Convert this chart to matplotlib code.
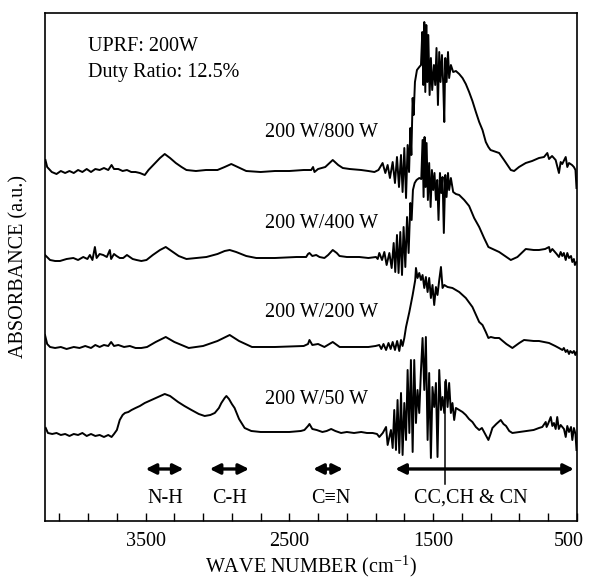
import numpy as np
import matplotlib
matplotlib.use("Agg")
from matplotlib import pyplot as plt
from matplotlib.ticker import FixedLocator, FixedFormatter, NullFormatter

plt.rcParams["font.family"] = ["Liberation Serif", "DejaVu Serif"]
plt.rcParams["mathtext.fontset"] = "stix"

# spectra: (wave number, absorbance a.u.)
spec_800 = np.array([
    (4197, 3.62), (4185, 3.55), (4153, 3.50), (4120, 3.48), (4090, 3.51), (4060, 3.49),
    (4030, 3.51), (4000, 3.49), (3970, 3.52), (3940, 3.50), (3910, 3.53), (3880, 3.50),
    (3850, 3.53), (3820, 3.52), (3790, 3.54), (3760, 3.52), (3737, 3.57), (3720, 3.53),
    (3690, 3.53), (3660, 3.51), (3630, 3.52), (3600, 3.50), (3570, 3.50), (3540, 3.49),
    (3506, 3.47), (3480, 3.52), (3440, 3.58), (3400, 3.64), (3367, 3.68), (3330, 3.64),
    (3290, 3.59), (3250, 3.55), (3216, 3.52), (3150, 3.51), (3080, 3.52), (3000, 3.52),
    (2950, 3.55), (2904, 3.58), (2860, 3.55), (2800, 3.51), (2700, 3.50), (2600, 3.51),
    (2500, 3.51), (2400, 3.52), (2348, 3.52), (2335, 3.55), (2325, 3.50), (2300, 3.53),
    (2250, 3.55), (2198, 3.62), (2160, 3.57), (2128, 3.54), (2080, 3.53), (2000, 3.52),
    (1950, 3.51), (1908, 3.50), (1880, 3.52),
    (1851, 3.59), (1832, 3.49), (1816, 3.57), (1800, 3.44), (1781, 3.60), (1765, 3.39),
    (1751, 3.65), (1737, 3.35), (1723, 3.67), (1712, 3.30), (1700, 3.74), (1688, 3.24),
    (1677, 3.77), (1667, 3.50), (1658, 3.94), (1651, 3.67), (1642, 4.24), (1635, 4.07),
    (1626, 4.40), (1612, 4.52), (1596, 4.55), (1584, 4.57), (1575, 4.90), (1568, 4.37),
    (1561, 5.00), (1554, 4.30), (1547, 4.97), (1540, 4.40), (1533, 4.87), (1524, 4.27),
    (1515, 4.64), (1506, 4.32), (1494, 4.57), (1485, 4.37), (1476, 4.74), (1466, 4.17),
    (1457, 4.70), (1448, 4.40), (1438, 4.67), (1429, 4.37), (1422, 4.00), (1415, 4.64),
    (1406, 4.40), (1396, 4.70), (1388, 4.44), (1376, 4.57), (1360, 4.50), (1341, 4.51),
    (1318, 4.48), (1295, 4.44), (1272, 4.38), (1249, 4.30), (1226, 4.21), (1202, 4.10),
    (1179, 4.00), (1156, 3.92), (1133, 3.80), (1115, 3.75), (1100, 3.72), (1040, 3.69),
    (1006, 3.62), (959, 3.52), (936, 3.51), (902, 3.55), (855, 3.59), (811, 3.61),
    (763, 3.64), (728, 3.65), (705, 3.69), (693, 3.63), (672, 3.66), (647, 3.62),
    (624, 3.49), (612, 3.60), (601, 3.58), (577, 3.65), (566, 3.55), (554, 3.59),
    (533, 3.57), (520, 3.55), (509, 3.52), (502, 3.34),
])

spec_400 = np.array([
    (4200, 2.67), (4165, 2.62), (4130, 2.61), (4096, 2.61), (4050, 2.63), (4003, 2.64),
    (3970, 2.62), (3934, 2.65), (3905, 2.63), (3888, 2.67), (3870, 2.62), (3853, 2.75),
    (3841, 2.64), (3820, 2.68), (3795, 2.67), (3770, 2.65), (3749, 2.72), (3740, 2.63),
    (3720, 2.68), (3702, 2.66), (3680, 2.64), (3656, 2.64), (3630, 2.67), (3610, 2.65),
    (3590, 2.63), (3563, 2.62), (3530, 2.61), (3494, 2.62), (3450, 2.67), (3400, 2.72),
    (3360, 2.75), (3320, 2.71), (3270, 2.66), (3216, 2.63), (3150, 2.64), (3077, 2.65),
    (3000, 2.68), (2950, 2.71), (2915, 2.72), (2870, 2.70), (2800, 2.66), (2730, 2.64),
    (2600, 2.64), (2450, 2.65), (2383, 2.65), (2370, 2.68), (2360, 2.69), (2340, 2.66),
    (2313, 2.67), (2290, 2.65), (2256, 2.64), (2230, 2.67), (2198, 2.72), (2170, 2.69),
    (2151, 2.66), (2100, 2.65), (2013, 2.65), (1950, 2.64), (1897, 2.65), (1885, 2.63),
    (1874, 2.69), (1855, 2.62), (1839, 2.70), (1823, 2.57), (1804, 2.69), (1788, 2.54),
    (1774, 2.79), (1763, 2.50), (1751, 2.87), (1740, 2.49), (1728, 2.90), (1716, 2.47),
    (1705, 2.95), (1693, 2.55), (1681, 3.05), (1670, 2.69), (1658, 3.19), (1649, 3.02),
    (1640, 3.32), (1628, 3.39), (1615, 3.42), (1596, 3.44), (1582, 3.43), (1573, 3.82),
    (1566, 3.25), (1559, 3.85), (1552, 3.35), (1545, 3.79), (1536, 3.22), (1527, 3.59),
    (1517, 3.15), (1508, 3.52), (1499, 3.32), (1490, 3.49), (1480, 3.22), (1471, 3.42),
    (1462, 3.02), (1452, 3.49), (1443, 3.29), (1434, 3.45), (1425, 2.89), (1415, 3.47),
    (1406, 3.25), (1396, 3.49), (1388, 3.32), (1376, 3.44), (1360, 3.30), (1341, 3.28),
    (1318, 3.27), (1283, 3.22), (1249, 3.16), (1214, 3.04), (1179, 2.95), (1145, 2.84),
    (1125, 2.78), (1115, 2.75), (1040, 2.70), (959, 2.62), (913, 2.65), (855, 2.73),
    (800, 2.72), (763, 2.72), (720, 2.73), (693, 2.75), (685, 2.70), (670, 2.73),
    (640, 2.68), (624, 2.65), (612, 2.70), (601, 2.66), (590, 2.69), (577, 2.62),
    (566, 2.69), (554, 2.64), (540, 2.66), (531, 2.60), (520, 2.63), (513, 2.57),
    (502, 2.60),
])

spec_200 = np.array([
    (4200, 1.87), (4185, 1.78), (4165, 1.75), (4130, 1.74), (4090, 1.75), (4050, 1.73),
    (4000, 1.75), (3960, 1.74), (3920, 1.76), (3880, 1.74), (3850, 1.77), (3820, 1.75),
    (3790, 1.77), (3760, 1.76), (3740, 1.80), (3720, 1.76), (3690, 1.77), (3650, 1.75),
    (3610, 1.76), (3570, 1.74), (3530, 1.74), (3490, 1.75), (3430, 1.80), (3360, 1.85),
    (3300, 1.80), (3200, 1.74), (3100, 1.76), (3000, 1.81), (2915, 1.87), (2850, 1.81),
    (2760, 1.75), (2600, 1.75), (2400, 1.76), (2370, 1.78), (2360, 1.82), (2340, 1.77),
    (2300, 1.78), (2256, 1.75), (2198, 1.80), (2150, 1.75), (2050, 1.75), (1950, 1.75),
    (1900, 1.76), (1874, 1.77), (1860, 1.73), (1845, 1.78), (1827, 1.72), (1810, 1.79),
    (1795, 1.73), (1781, 1.80), (1765, 1.72), (1750, 1.81), (1735, 1.71), (1723, 1.82),
    (1712, 1.76), (1700, 1.84), (1688, 1.95), (1665, 2.10), (1642, 2.27), (1624, 2.42),
    (1619, 2.54), (1608, 2.44), (1596, 2.49), (1584, 2.42), (1573, 2.47), (1561, 2.34),
    (1550, 2.45), (1538, 2.30), (1527, 2.44), (1515, 2.24), (1504, 2.37), (1492, 2.17),
    (1480, 2.35), (1469, 2.27), (1457, 2.42), (1445, 2.55), (1434, 2.34), (1422, 2.37),
    (1399, 2.35), (1365, 2.34), (1318, 2.30), (1272, 2.24), (1226, 2.15), (1179, 2.00),
    (1156, 1.97), (1133, 1.90), (1115, 1.84), (1098, 1.85), (1070, 1.84), (1040, 1.84),
    (990, 1.78), (948, 1.74), (900, 1.79), (867, 1.82), (800, 1.81), (763, 1.81),
    (693, 1.79), (650, 1.76), (624, 1.74), (600, 1.72), (590, 1.74), (577, 1.70),
    (566, 1.72), (554, 1.68), (545, 1.71), (531, 1.69), (520, 1.71), (510, 1.67),
    (502, 1.70),
])

spec_50 = np.array([
    (4195, 0.94), (4180, 0.89), (4150, 0.88), (4120, 0.89), (4090, 0.87), (4060, 0.88),
    (4030, 0.86), (4000, 0.88), (3970, 0.87), (3940, 0.89), (3910, 0.86), (3880, 0.88),
    (3850, 0.86), (3820, 0.87), (3790, 0.85), (3760, 0.87), (3737, 0.85), (3720, 0.88),
    (3700, 0.92), (3680, 1.02), (3660, 1.07), (3644, 1.09), (3620, 1.10), (3598, 1.12),
    (3570, 1.14), (3540, 1.16), (3506, 1.19), (3460, 1.22), (3413, 1.25), (3367, 1.28),
    (3330, 1.26), (3274, 1.20), (3230, 1.16), (3181, 1.12), (3130, 1.08), (3089, 1.06),
    (3050, 1.07), (3019, 1.09), (2990, 1.14), (2973, 1.19), (2950, 1.24), (2938, 1.26),
    (2920, 1.23), (2900, 1.18), (2881, 1.14), (2850, 1.03), (2811, 0.94), (2765, 0.91),
    (2700, 0.90), (2600, 0.90), (2500, 0.90), (2420, 0.91), (2395, 0.92), (2370, 0.96),
    (2360, 0.98), (2340, 0.93), (2310, 0.92), (2270, 0.90), (2240, 0.91), (2209, 0.93),
    (2180, 0.91), (2140, 0.89), (2100, 0.90), (2050, 0.89), (2000, 0.90), (1960, 0.89),
    (1920, 0.89), (1890, 0.88), (1874, 0.85), (1850, 0.89), (1827, 0.95), (1816, 0.77),
    (1793, 0.92), (1781, 0.74), (1770, 1.12), (1758, 0.72), (1747, 1.22), (1735, 0.69),
    (1723, 1.29), (1712, 0.67), (1700, 1.19), (1688, 0.82), (1677, 1.52), (1665, 0.89),
    (1654, 1.62), (1642, 0.70), (1631, 1.62), (1619, 0.99), (1608, 1.32), (1596, 1.09),
    (1584, 1.52), (1573, 1.84), (1561, 1.32), (1550, 1.85), (1538, 0.82), (1527, 1.49),
    (1515, 0.64), (1504, 1.35), (1492, 1.15), (1480, 1.39), (1469, 0.65), (1457, 1.52),
    (1445, 1.12), (1434, 1.25), (1422, 1.09), (1411, 1.42), (1399, 1.15), (1388, 1.39),
    (1376, 1.09), (1365, 1.19), (1353, 1.02), (1341, 1.14), (1318, 1.12), (1295, 1.10),
    (1272, 1.07), (1250, 1.03), (1226, 1.00), (1202, 0.95), (1179, 0.92), (1160, 0.94),
    (1145, 0.90), (1115, 0.82), (1100, 0.88), (1087, 0.94), (1060, 0.98), (1029, 1.02),
    (1010, 0.98), (992, 0.96), (970, 0.91), (948, 0.89), (900, 0.90), (853, 0.91),
    (800, 0.92), (763, 0.94), (740, 0.95), (716, 1.00), (710, 0.95), (700, 0.98),
    (681, 1.05), (670, 0.96), (659, 0.99), (647, 0.93), (636, 1.05), (625, 0.93),
    (612, 0.97), (600, 0.95), (589, 0.93), (577, 0.85), (566, 0.96), (554, 0.90),
    (540, 0.95), (531, 0.82), (520, 0.94), (509, 0.88), (502, 0.72),
])

spectra = [spec_800, spec_400, spec_200, spec_50]
spec_labels = ["200 W/800 W", "200 W/400 W", "200 W/200 W", "200 W/50 W"]
label_y = [3.85, 2.94, 2.05, 1.18]

band_names = ["N-H", "C-H", "C\u2261N", "CC,CH & CN"]
band_ranges = [(3500, 3236), (3054, 2780), (2334, 2127), (1763, 520)]
band_label_x = [3360, 2919, 2214, 1237]
marker_wn = 1420

conditions = ["UPRF: 200W", "Duty Ratio: 12.5%"]

xtick_pos = [3500, 2500, 1500, 500]
xtick_lbl = ["3500", "2500", "1500", "500"]

fig = plt.figure(figsize=(5.9, 5.81), dpi=100)
ax = fig.add_axes([0.0763, 0.1033, 0.9025, 0.8743])

for spec in spectra:
    ax.plot(spec[:, 0], spec[:, 1], color="black", lw=1.4)

for lbl, y in zip(spec_labels, label_y):
    ax.text(2672, y, lbl, fontsize=14.5, ha="left", va="baseline")

for i, line in enumerate(conditions):
    ax.text(0.081, 0.926 - i * 0.052, line, transform=ax.transAxes,
            fontsize=14.5, ha="left", va="baseline")

arrow_y = 0.53
for name, (a, b), lx in zip(band_names, band_ranges, band_label_x):
    ax.annotate("", xy=(b, arrow_y), xytext=(a, arrow_y),
                arrowprops=dict(arrowstyle="<|-|>", color="black", lw=2.4,
                                mutation_scale=15, shrinkA=0, shrinkB=0))
    ax.text(lx, 0.19, name, fontsize=14.5, ha="center", va="baseline")

ax.plot([marker_wn, marker_wn], [0.38, 1.40], color="black", lw=1.1)

ax.set_xlim(4200, 495)
ax.set_ylim(0.01, 5.09)
ax.xaxis.set_major_locator(FixedLocator(xtick_pos))
# last label sits on the figure edge, nudge it inward a little
ax.xaxis.set_major_formatter(FixedFormatter(xtick_lbl[:-1] + [""]))
ax.annotate(xtick_lbl[-1], xy=(xtick_pos[-1], 0), xycoords=("data", "axes fraction"),
            xytext=(-6, -8), textcoords="offset points",
            ha="center", va="top", fontsize=14.5, annotation_clip=False)
ax.xaxis.set_minor_locator(FixedLocator(np.arange(500, 4200, 200)))
ax.xaxis.set_minor_formatter(NullFormatter())
ax.tick_params(axis="x", which="both", direction="in", top=False, length=6,
               width=1.0, labelsize=14.5, pad=8)
ax.set_yticks([])
for s in ax.spines.values():
    s.set_linewidth(1.2)

ax.set_xlabel("WAVE NUMBER (cm$^{\\mathregular{-1}}$)", fontsize=14.5, labelpad=2)
ax.set_ylabel("ABSORBANCE (a.u.)", fontsize=14.5, labelpad=12)

fig.savefig("out.png", dpi=100)
